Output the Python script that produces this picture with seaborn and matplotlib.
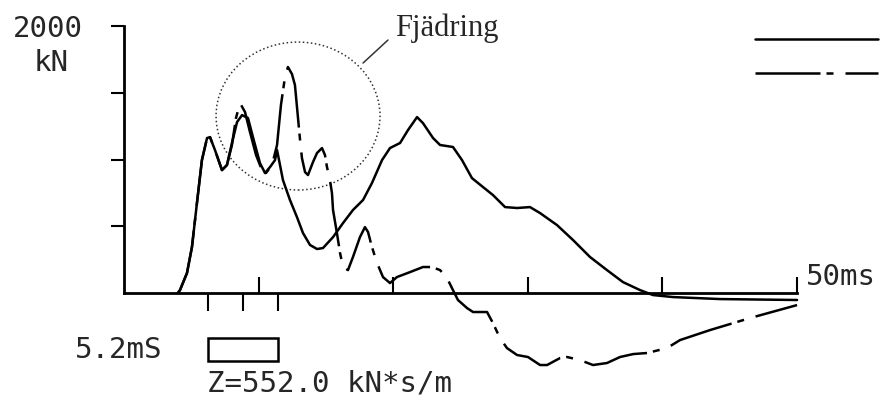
import pandas as pd
import matplotlib.pyplot as plt
import seaborn as sns
from matplotlib.patches import Ellipse, Rectangle
from matplotlib.lines import Line2D

# Force curves (time in ms, force in kN)
solid_t = [4.0, 4.16, 4.68, 5.05, 5.42, 5.79, 6.17, 6.39, 6.76, 7.28, 7.65, 8.02,
           8.40, 8.77, 9.21, 9.58, 10.10, 10.48, 10.85, 11.22, 11.37, 11.59, 11.81,
           12.33, 12.85, 13.30, 13.82, 14.34, 14.78, 15.53, 16.27, 17.01, 17.76,
           18.42, 19.17, 19.76, 20.51, 21.10, 21.77, 22.21, 22.96, 23.48, 24.44,
           25.11, 25.85, 26.67, 27.41, 28.31, 29.20, 30.16, 30.91, 32.17, 33.36,
           34.62, 35.88, 37.07, 38.34, 39.30, 40.79, 44.28, 50.0]
solid_f = [0, 22, 150, 345, 674, 996, 1161, 1168, 1071, 921, 959, 1124,
           1281, 1333, 1311, 1168, 974, 899, 944, 996, 1071, 959, 846,
           697, 569, 449, 360, 330, 337, 419, 524, 622, 697,
           824, 996, 1086, 1124, 1221, 1318, 1273, 1161, 1109, 1094,
           996, 861, 794, 734, 644, 637, 644, 599, 509, 397,
           270, 172, 82, 22, -15, -30, -45, -52]

dash_t = [4.0, 4.16, 4.68, 5.05, 5.42, 5.79, 6.17, 6.39, 6.76, 7.28, 7.65, 8.02,
          8.32, 8.62, 8.99, 9.36, 9.81, 10.25, 10.55, 11.00, 11.37, 11.66, 11.96,
          12.18, 12.48, 12.70, 13.08, 13.22, 13.45, 13.67, 14.04, 14.34, 14.71,
          14.93, 15.08, 15.30, 15.45, 15.53, 15.82, 16.05, 16.27, 16.64, 17.01,
          17.53, 17.90, 18.13, 18.42, 18.80, 19.24, 19.76, 20.28, 21.25, 22.21,
          22.88, 23.48, 24.00, 24.44, 24.81, 25.48, 25.93, 26.97, 27.41, 27.93,
          28.45, 29.20, 30.01, 30.91, 31.43, 32.39, 32.91, 33.88, 34.84, 35.88,
          36.85, 37.82, 38.86, 40.34, 41.31, 43.54, 46.51, 50.0]
dash_f = [0, 22, 150, 345, 674, 996, 1161, 1168, 1071, 921, 959, 1109,
          1311, 1423, 1356, 1206, 1034, 921, 899, 959, 1109, 1408, 1618,
          1693, 1640, 1558, 1146, 1011, 906, 884, 981, 1049, 1086,
          1034, 944, 846, 749, 622, 449, 300, 195, 172, 270,
          419, 494, 457, 345, 225, 120, 75, 120, 157, 195,
          195, 172, 112, 22, -52, -112, -142, -142, -225, -337,
          -412, -464, -479, -539, -539, -487, -479, -502, -539, -524,
          -479, -457, -449, -412, -352, -277, -187, -90]

solid = pd.DataFrame({'t': solid_t, 'F': solid_f})
dashed = pd.DataFrame({'t': dash_t, 'F': dash_f})

sns.set_style('white')
plt.rcParams['font.family'] = ['DejaVu Sans Mono', 'DejaVu Sans']

fig = plt.figure(figsize=(8.82, 3.98), dpi=100)
ax = fig.add_axes([0, 0, 1, 1])
dashpat = (0, (26, 2.4, 2.8, 4.8))

sns.lineplot(data=solid, x='t', y='F', sort=False, estimator=None,
             color='black', lw=1.8, solid_joinstyle='round', ax=ax)
sns.lineplot(data=dashed, x='t', y='F', sort=False, estimator=None,
             color='black', lw=1.8, linestyle=dashpat, dash_joinstyle='round', ax=ax)

ax.set_xlim(-9.21, 56.31)
ax.set_ylim(-786, 2195)

# axes drawn like the plotter original
for s in ['top', 'right']:
    ax.spines[s].set_visible(False)
ax.spines['left'].set_position(('data', 0))
ax.spines['bottom'].set_position(('data', 0))
ax.spines['left'].set_bounds(0, 2000)
ax.spines['bottom'].set_bounds(0, 50)
for s in ['left', 'bottom']:
    ax.spines[s].set_linewidth(2)
    ax.spines[s].set_color('black')

ax.set_yticks([500, 1000, 1500, 2000])
ax.set_xticks([10, 20, 30, 40, 50])
ax.set_xticks([6.25, 8.85, 11.45], minor=True)
ax.tick_params(axis='y', direction='out', length=9.5, width=1.5, left=True,
               labelleft=False, color='black')
ax.tick_params(axis='x', which='major', direction='in', length=11.5, width=1.5,
               bottom=True, labelbottom=False, color='black')
ax.tick_params(axis='x', which='minor', direction='out', length=13, width=1.5,
               bottom=True, labelbottom=False, color='black')
ax.set_xlabel('')
ax.set_ylabel('')

ax.text(-5.68, 1977, '2000', ha='center', va='center', fontsize=21)
ax.text(-5.39, 1723, 'kN', ha='center', va='center', fontsize=21)
ax.text(50.67, 120, '50ms', ha='left', va='center', fontsize=21)
ax.text(-0.41, -427, '5.2mS', ha='center', va='center', fontsize=21)
ax.text(6.17, -674, 'Z=552.0 kN*s/m', ha='left', va='center', fontsize=21)

ax.add_patch(Rectangle((6.25, -509), 5.2, 172, fill=False, lw=1.8, ec='black'))

# circled region
ax.add_patch(Ellipse((12.93, 1326), 12.18, 1108, fill=False, ls=':', lw=1.1,
                     ec='#333333'))
ax.plot([17.76, 19.61], [1723, 1895], color='#333333', lw=1.1)
ax.text(20.13, 1985, 'Fjädring', ha='left', va='center', fontsize=22,
        family='Liberation Serif')

handles = [Line2D([], [], color='black', lw=1.8),
           Line2D([], [], color='black', lw=1.8, linestyle=dashpat)]
ax.legend(handles, [' ', ' '], loc='upper left', bbox_to_anchor=(0.856, 0.917),
          bbox_transform=fig.transFigure, frameon=False, fontsize=10,
          handlelength=8.86, handletextpad=0, borderpad=0, borderaxespad=0,
          labelspacing=1.4)

plt.savefig('out.png', dpi=100)
